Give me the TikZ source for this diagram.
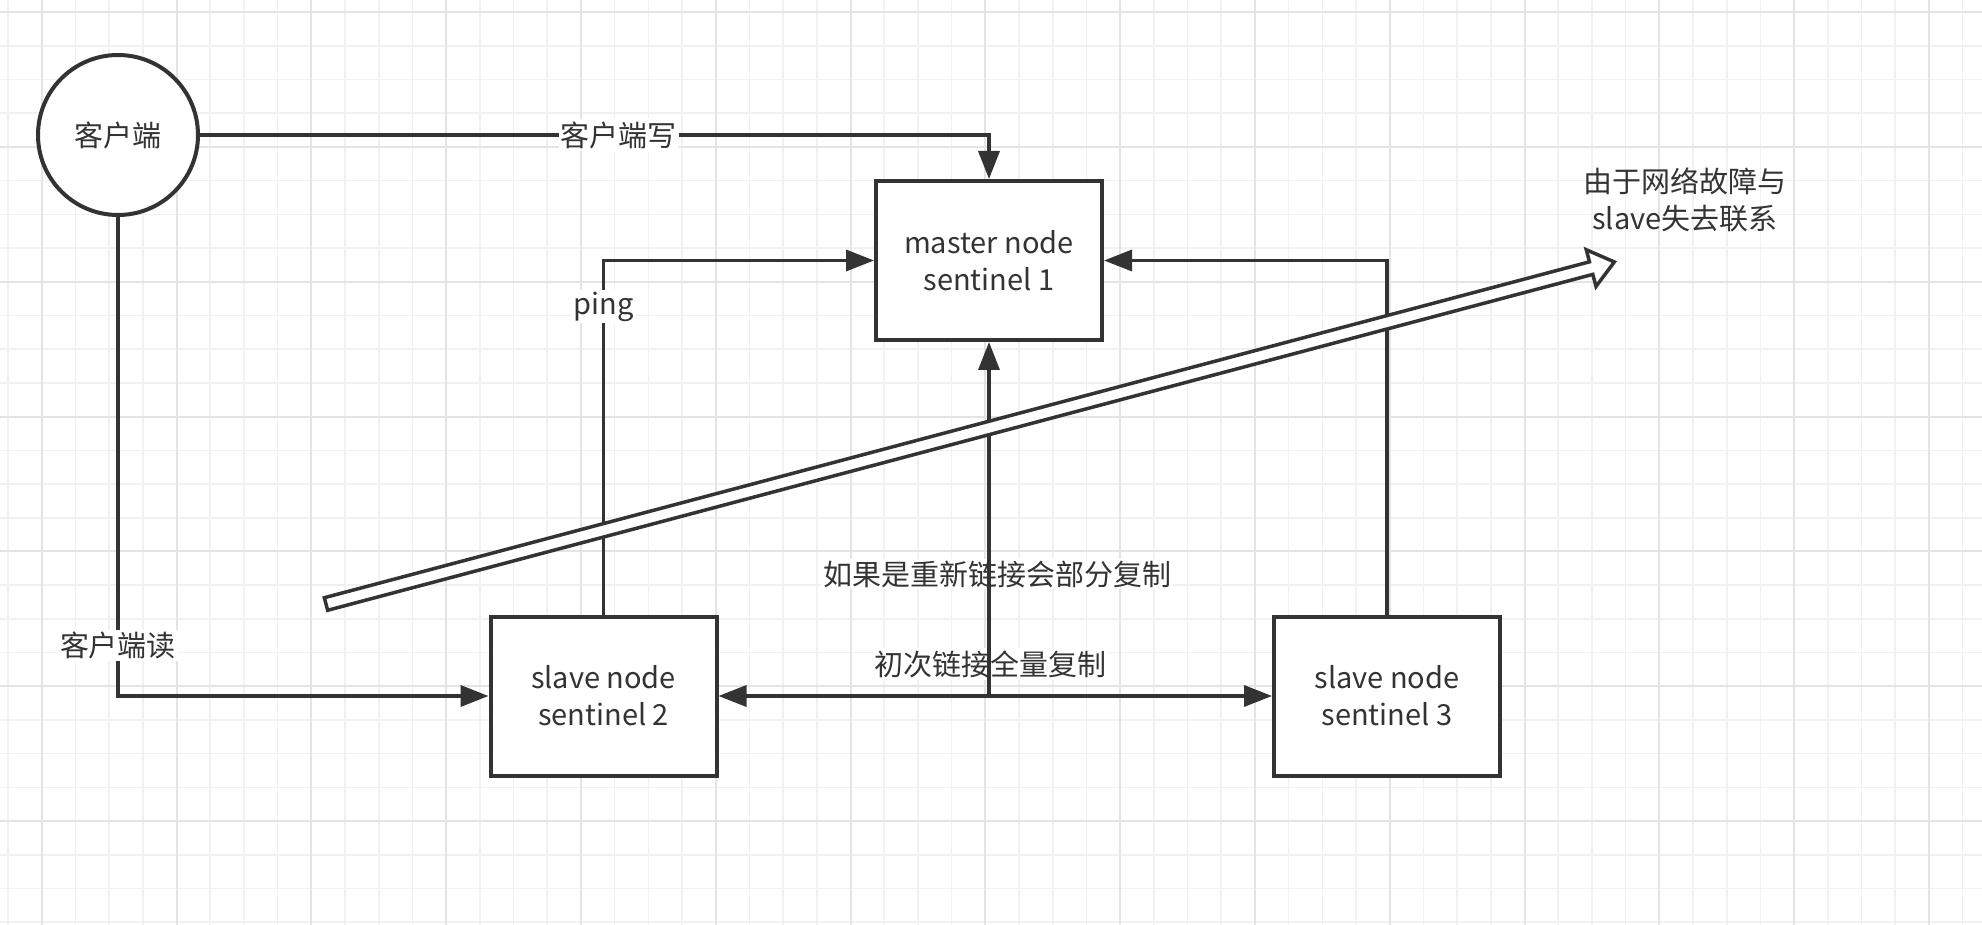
\documentclass[tikz,border=0pt]{standalone}
\usepackage{fontspec}
\setmainfont{Noto Sans CJK SC}
\usetikzlibrary{arrows.meta}
\definecolor{ink}{HTML}{333333}
\definecolor{gridminor}{HTML}{F1F1F1}
\definecolor{gridmajor}{HTML}{E4E4E4}

\begin{document}
\begin{tikzpicture}[x=0.5pt,y=-0.5pt,>={Triangle[length=14pt,width=10.5pt]}]
	\useasboundingbox (0,0) rectangle (1982,925);
	\fill[white] (0,0) rectangle (1982,925);
	% background grid
	\foreach \i in {0,...,58} \draw[gridminor,line width=0.8pt] ({8+33.7*\i},0) -- ({8+33.7*\i},925);
	\foreach \j in {0,...,27} \draw[gridminor,line width=0.8pt] (0,{12.2+33.7*\j}) -- (1982,{12.2+33.7*\j});
	\foreach \i in {0,...,14} \draw[gridmajor,line width=1pt] ({41.7+134.8*\i},0) -- ({41.7+134.8*\i},925);
	\foreach \j in {0,...,6} \draw[gridmajor,line width=1pt] (0,{12.2+134.8*\j}) -- (1982,{12.2+134.8*\j});

	\begin{scope}[every node/.style={font=\fontsize{14.5}{18.5}\selectfont,text=ink},line width=1.75pt]
		\tikzstyle{box}=[draw=ink,fill=white,shape=rectangle,line width=2pt,minimum width=113pt,minimum height=79.5pt,align=center]
		\tikzstyle{conn}=[draw=ink,->]
		\tikzstyle{lbl}=[fill=white,inner sep=1pt]
		\path (118, 135) node (client) [draw=ink,fill=white,shape=circle,line width=2pt,minimum size=80pt] {客户端};
		\path (989, 260.5) node (master) [box] {master node\\sentinel 1};
		\path (603.5, 696) node (s2) [box] {slave node\\sentinel 2};
		\path (1387, 696) node (s3) [box] {slave node\\sentinel 3};
		\coordinate (j) at (master |- s2);

		\draw[conn] (client) -| (master) node [pos=0.2655,lbl] {客户端写};
		\draw[conn] (client) |- (s2) node [pos=0.447,lbl] {客户端读};
		\draw[conn] (s2) |- (master) node [pos=0.435,lbl] {ping};
		\draw[conn] (s3) |- (master);
		\draw[conn,<->] (s2) -- (s3) node [pos=0.492,lbl,yshift=16pt] {初次链接全量复制};
		\path (997, 574) node (partial) [lbl] {如果是重新链接会部分复制};
		\draw[conn] (j) -- (master);

		% broken link arrow
		\begin{scope}[shift={(326,604)},rotate=14.87]
			\draw[draw=ink,fill=white,line join=miter] (0,-6.5) -- (1309,-6.5) -- (1309,-19) -- (1333,0) -- (1309,19) -- (1309,6.5) -- (0,6.5) -- cycle;
		\end{scope}
		\path (1685, 200) node (note) [align=center] {由于网络故障与\\slave失去联系};
	\end{scope}
\end{tikzpicture}
\end{document}
